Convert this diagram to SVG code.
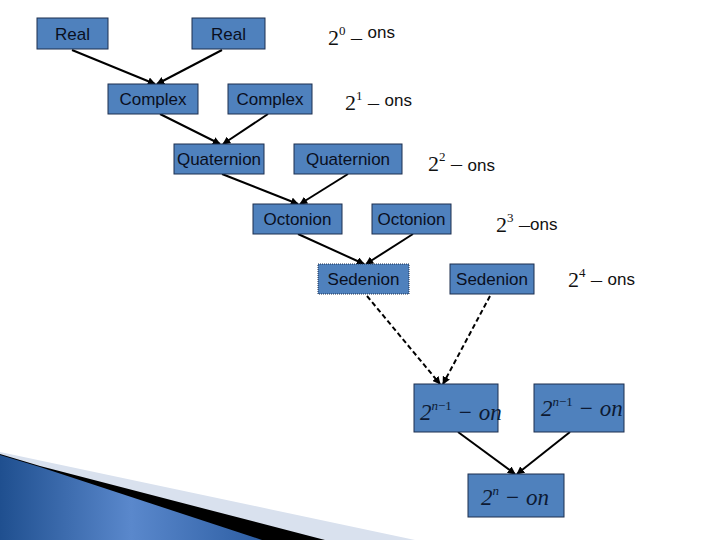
<svg xmlns="http://www.w3.org/2000/svg" width="720" height="540" viewBox="0 0 720 540">
<defs>
<style>
.box{fill:#4F81BD;stroke:#1c2f4f;stroke-width:1}
.dot{fill:#4F81BD;stroke:#1c2f4f;stroke-width:1;stroke-dasharray:1 1}
.t{font-family:"Liberation Sans",Arial,sans-serif;font-size:17px;fill:#0a0f1e;text-anchor:middle}
.m{font-family:"Liberation Serif","Times New Roman",serif;font-size:22px;fill:#111}
.mi{font-family:"Liberation Serif","Times New Roman",serif;font-size:23px;fill:#0d1a33;font-style:italic}
.sup{font-size:13px}
.s{font-family:"Liberation Sans",Arial,sans-serif;font-size:17px;fill:#111}
.c{stroke:#000;stroke-width:2;fill:none;marker-end:url(#ah)}
.d{stroke:#000;stroke-width:2;fill:none;stroke-dasharray:5 3;marker-end:url(#ah)}
</style>
<marker id="ah" viewBox="0 0 10 10" refX="9" refY="5" markerWidth="4" markerHeight="4" orient="auto">
<path d="M0,0 L10,5 L0,10 z" fill="#000"/>
</marker>
<linearGradient id="bg" x1="0" y1="0" x2="1" y2="0">
<stop offset="0" stop-color="#1f4f8f"/>
<stop offset="0.5" stop-color="#5a88cc"/>
<stop offset="1" stop-color="#2d5ea3"/>
</linearGradient>
</defs>
<rect width="720" height="540" fill="#fff"/>
<g id="decor">
<polygon points="0,452 415,540 0,540" fill="#d9e1ee"/>
<polygon points="0,454 40,466 325,540 0,540" fill="#000"/>
<polygon points="0,455 40,467 262,540 0,540" fill="url(#bg)"/>
</g>
<g id="connectors">
<line class="c" x1="72" y1="50" x2="155" y2="84"/>
<line class="c" x1="222" y1="50" x2="157" y2="84"/>
<line class="c" x1="160" y1="114" x2="220" y2="144"/>
<line class="c" x1="268" y1="114" x2="223" y2="144"/>
<line class="c" x1="222" y1="174" x2="298" y2="204"/>
<line class="c" x1="348" y1="174" x2="300" y2="204"/>
<line class="c" x1="298" y1="234" x2="364" y2="264"/>
<line class="c" x1="413" y1="234" x2="366" y2="264"/>
<line class="d" x1="367" y1="296" x2="440" y2="384"/>
<line class="d" x1="490" y1="296" x2="443" y2="384"/>
<line class="c" x1="458" y1="432" x2="515" y2="474"/>
<line class="c" x1="570" y1="432" x2="517" y2="474"/>
</g>
<g id="real1"><rect class="box" x="37" y="18" width="71" height="31"/><text class="t" x="72.5" y="40">Real</text></g>
<g id="real2"><rect class="box" x="192" y="18" width="73" height="31"/><text class="t" x="228.5" y="40">Real</text></g>
<g id="complex1"><rect class="box" x="108" y="84" width="90" height="30"/><text class="t" x="153" y="105">Complex</text></g>
<g id="complex2"><rect class="box" x="228" y="84" width="84" height="30"/><text class="t" x="270" y="105">Complex</text></g>
<g id="quat1"><rect class="box" x="174" y="144" width="90" height="30"/><text class="t" x="219" y="165">Quaternion</text></g>
<g id="quat2"><rect class="box" x="294" y="144" width="108" height="30"/><text class="t" x="348" y="165">Quaternion</text></g>
<g id="oct1"><rect class="box" x="253" y="204" width="89" height="30"/><text class="t" x="297.5" y="225">Octonion</text></g>
<g id="oct2"><rect class="box" x="372" y="204" width="79" height="30"/><text class="t" x="411.5" y="225">Octonion</text></g>
<g id="sed1"><rect class="dot" x="318" y="264" width="91" height="30"/><text class="t" x="363.5" y="285">Sedenion</text></g>
<g id="sed2"><rect class="box" x="450" y="264" width="84" height="30"/><text class="t" x="492" y="285">Sedenion</text></g>
<g id="nm1a"><rect class="box" x="414" y="384" width="84" height="48"/><text class="mi" x="420" y="420">2<tspan class="sup" dy="-10" font-style="italic">n</tspan><tspan class="sup" font-style="normal">−1</tspan><tspan dy="10"> − on</tspan></text></g>
<g id="nm1b"><rect class="box" x="534" y="384" width="90" height="48"/><text class="mi" x="541" y="416">2<tspan class="sup" dy="-10" font-style="italic">n</tspan><tspan class="sup" font-style="normal">−1</tspan><tspan dy="10"> − on</tspan></text></g>
<g id="n"><rect class="box" x="468" y="474" width="96" height="43"/><text class="mi" x="481" y="505">2<tspan class="sup" dy="-10">n</tspan><tspan dy="10"> − on</tspan></text></g>
<g id="labels">
<text class="m" x="328" y="45">2<tspan class="sup" dy="-10">0</tspan><tspan dy="10"> – </tspan><tspan class="s" dy="-7">ons</tspan></text>
<text class="m" x="345" y="110">2<tspan class="sup" dy="-10">1</tspan><tspan dy="10"> – </tspan><tspan class="s" dy="-4">ons</tspan></text>
<text class="m" x="428" y="171">2<tspan class="sup" dy="-10">2</tspan><tspan dy="10"> – </tspan><tspan class="s" dy="0">ons</tspan></text>
<text class="m" x="496" y="232">2<tspan class="sup" dy="-10">3</tspan><tspan dy="10"> –</tspan><tspan class="s" dy="-2">ons</tspan></text>
<text class="m" x="568" y="287">2<tspan class="sup" dy="-10">4</tspan><tspan dy="10"> – </tspan><tspan class="s" dy="-2">ons</tspan></text>
</g>
</svg>
